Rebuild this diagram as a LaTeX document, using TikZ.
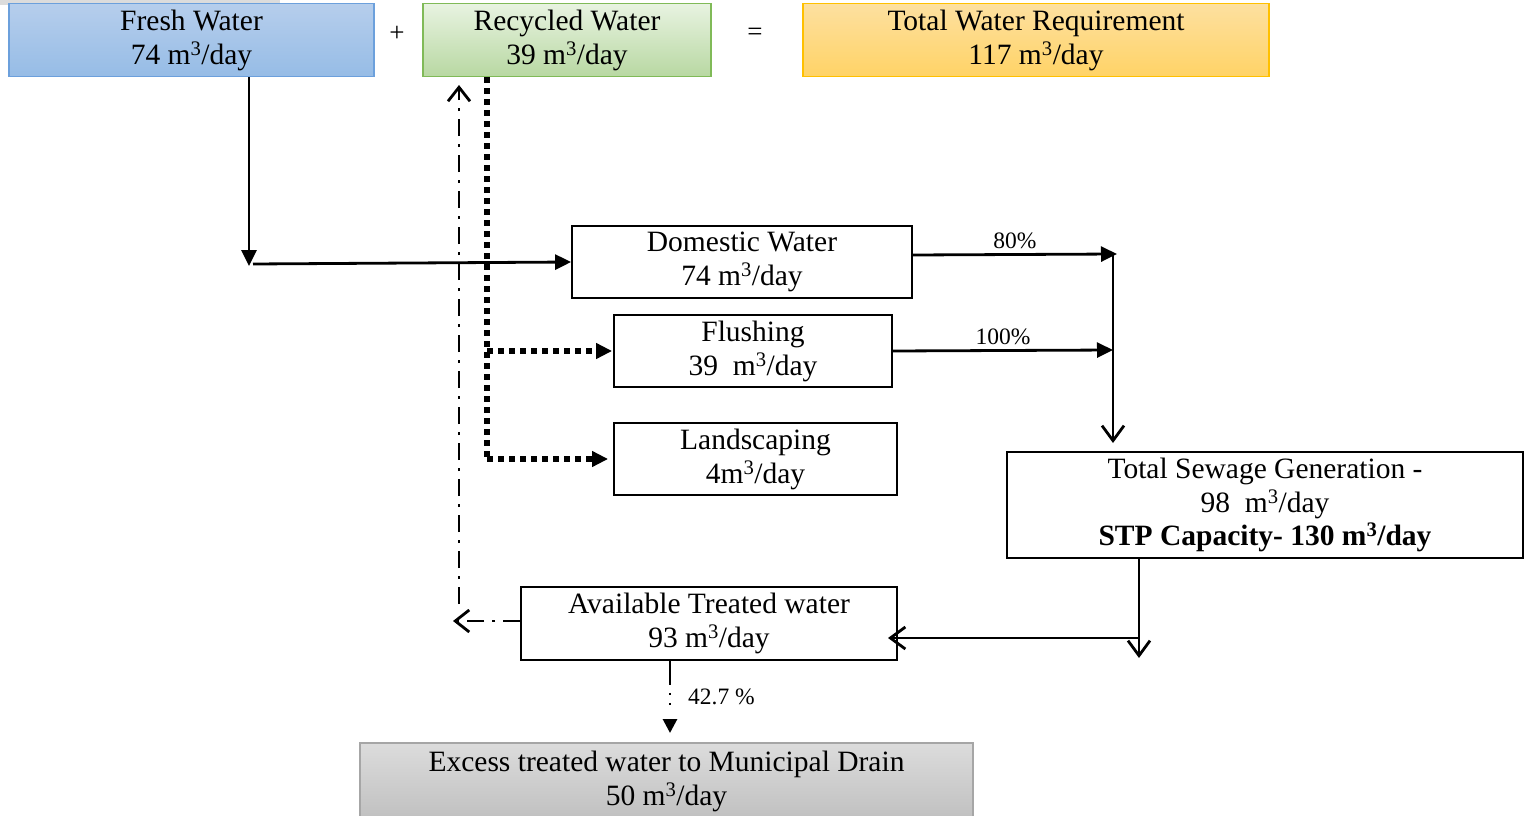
\documentclass[tikz,border=0pt]{standalone}
\usepackage{fontspec}
\setmainfont{Liberation Serif}
\usetikzlibrary{arrows.meta,calc}
\newcommand{\bigtxt}{\fontsize{29.5}{34}\selectfont}
\newcommand{\smtxt}{\fontsize{23.5}{26}\selectfont}
\newcommand{\mday}{m\textsuperscript{3}/day}
\definecolor{fwA}{RGB}{182,206,236}
\definecolor{fwB}{RGB}{150,188,230}
\definecolor{fwD}{RGB}{108,160,220}
\definecolor{rwA}{RGB}{232,243,225}
\definecolor{rwB}{RGB}{184,216,162}
\definecolor{rwD}{RGB}{128,186,88}
\definecolor{twA}{RGB}{253,224,160}
\definecolor{twB}{RGB}{255,211,102}
\definecolor{twD}{RGB}{255,192,0}
\definecolor{exA}{RGB}{220,220,220}
\definecolor{exB}{RGB}{192,192,192}
\definecolor{exD}{RGB}{166,166,166}
\tikzset{
  box/.style={draw, line width=1.8pt, inner sep=0pt, align=center, font=\bigtxt},
  conn/.style={line width=2.8pt},
  farr/.style={conn, -{Triangle[length=16pt,width=15pt]}},
  oarr/.style={conn, -{Straight Barb[length=15pt,width=22pt,line width=2.8pt]}},
  dotline/.style={line width=5.5pt, dash pattern=on 6pt off 5pt, -{Triangle[length=16pt,width=15pt]}},
  ddline/.style={line width=2.8pt, dash pattern=on 17pt off 8pt on 3pt off 8pt, -{Straight Barb[length=14pt,width=22pt,line width=2.8pt]}},
  pct/.style={font=\smtxt, inner sep=1pt}
}
\begin{document}
\begin{tikzpicture}[x=1pt,y=-1pt]
\clip (0,0) rectangle (1527,816);
\fill[exA] (0,0) rectangle (280,5);
% top boxes
\node[box, draw=fwD, top color=fwA, bottom color=fwB, minimum width=365pt, minimum height=73pt] (fresh) at (191.5,40) {Fresh Water\\74 \mday};
\node[box, draw=rwD, top color=rwA, bottom color=rwB, minimum width=288pt, minimum height=73pt] (rec) at (567,40) {Recycled Water\\39 \mday};
\node[box, draw=twD, top color=twA, bottom color=twB, minimum width=466pt, minimum height=73pt] (tot) at (1036,40) {Total Water Requirement\\117 \mday};
\node[font=\fontsize{27}{30}\selectfont] (plus) at (397,34) {+};
\node[font=\fontsize{27}{30}\selectfont] (eq) at (755,34) {=};
% middle boxes
\node[box, minimum width=340pt, minimum height=72pt] (dom) at (742,262) {Domestic Water\\74 \mday};
\node[box, minimum width=278pt, minimum height=72pt] (flush) at (753,351) {Flushing\\39\enspace\mday};
\node[box, minimum width=283pt, minimum height=72pt] (land) at (755.5,459) {Landscaping\\4\mday};
\node[box, minimum width=516pt, minimum height=106pt, font=\fontsize{29.5}{33.5}\selectfont] (sew) at (1265,505) {Total Sewage Generation -\\98\enspace\mday\\\textbf{STP Capacity- 130 m\textsuperscript{3}/day}};
\node[box, minimum width=376pt, minimum height=73pt] (avail) at (709,623.5) {Available Treated water\\93 \mday};
\node[box, draw=exD, top color=exA, bottom color=exB, minimum width=613pt, minimum height=76pt] (exc) at (666.5,781) {Excess treated water to Municipal Drain\\50 \mday};
% coordinates
\coordinate (fwc) at (249,266);
\coordinate (fwh) at (253,264);
\coordinate (rc) at (487,0);
\coordinate (j1) at (1117,254);
\coordinate (j2) at (1113,350);
\coordinate (jd) at (1113,443);
\coordinate (jt) at (1113,254);
\coordinate (sd) at (1139,658);
\coordinate (sh) at (1139,638);
\coordinate (ah) at (888,638);
\coordinate (ddl) at (453,621);
\coordinate (ddb) at (459,604);
\coordinate (ddt) at (459,85);
\coordinate (ex) at (670,733);
% fresh water
\draw[farr] (fresh.south -| fwc) -- (fwc);
\draw[farr] (fwh) -- (dom.west);
% recycled water dotted
\draw[line width=5.5pt, dash pattern=on 6pt off 5pt] (rec.south -| rc) -- (rc |- land.west);
\draw[dotline] (rc |- flush.west) -- ([xshift=-1pt]flush.west);
\draw[dotline] (rc |- land.west) -- ([xshift=-5pt]land.west);
% to sewage
\draw[farr] ($(dom.east)+(0,-7)$) -- node[pct, above, yshift=3pt] {80\%} (j1);
\draw[farr] (flush.east) -- node[pct, above, yshift=3pt] {100\%} (j2);
\draw[oarr] (jt) -- (jd);
% sewage to available
\draw[oarr] (sew.south -| sd) -- (sd);
\draw[oarr] (sh) -- (ah);
% available to recycled (dash dot)
\draw[ddline] (avail.west |- ddl) -- (ddl);
\draw[ddline] (ddb) -- (ddt);
% available to excess
\draw[line width=2.8pt, dash pattern=on 24pt off 8pt on 2pt off 8pt on 2pt off 30pt, -{Triangle[length=14pt,width=14pt]}] (avail.south -| ex) -- (ex);
\node[pct, anchor=west] (p427) at (687,697) {42.7 \%};
\end{tikzpicture}
\end{document}
